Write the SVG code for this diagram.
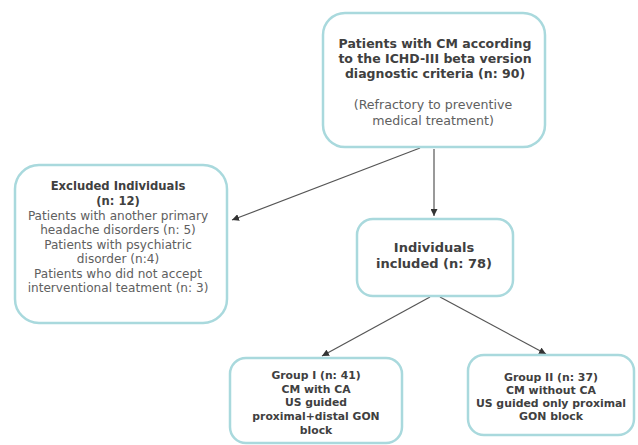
<svg xmlns="http://www.w3.org/2000/svg" width="638" height="445" viewBox="0 0 638 445">
<defs>
<marker id="arr" viewBox="0 0 10 10" refX="10" refY="5" markerWidth="7" markerHeight="7" orient="auto" markerUnits="userSpaceOnUse">
<path d="M0,0 L10,5 L0,10 z" fill="#333"/>
</marker>
<style>
.box{fill:#fff;stroke:#a9d9dd;stroke-width:2.5}
.b{font-family:"DejaVu Sans",sans-serif;font-weight:bold;fill:#404040;text-anchor:middle}
.r{font-family:"DejaVu Sans",sans-serif;fill:#606060;text-anchor:middle}
.c{stroke:#555;stroke-width:1.2;fill:none;marker-end:url(#arr)}
</style>
</defs>
<rect width="638" height="445" fill="#fff"/>
<g id="connectors">
<line class="c" x1="420" y1="148" x2="232" y2="220"/>
<line class="c" x1="434" y1="149" x2="434" y2="216"/>
<line class="c" x1="430" y1="297" x2="322" y2="356"/>
<line class="c" x1="440" y1="297" x2="546" y2="354"/>
</g>
<g id="top">
<rect class="box" x="323" y="13" width="222" height="134" rx="22"/>
<text class="b" font-size="12.5" x="435" y="48">Patients with CM according</text>
<text class="b" font-size="12.5" x="435" y="63">to the ICHD-III beta version</text>
<text class="b" font-size="12.5" x="435" y="78">diagnostic criteria (n: 90)</text>
<text class="r" font-size="12.6" x="433" y="109">(Refractory to preventive</text>
<text class="r" font-size="12.6" x="433" y="125">medical treatment)</text>
</g>
<g id="excluded">
<rect class="box" x="15" y="165" width="212" height="158" rx="24"/>
<text class="b" font-size="11.6" x="118" y="190">Excluded Individuals</text>
<text class="b" font-size="11.6" x="118" y="205">(n: 12)</text>
<text class="r" font-size="12.1" x="118" y="220">Patients with another primary</text>
<text class="r" font-size="12.1" x="118" y="234">headache disorders (n: 5)</text>
<text class="r" font-size="12.1" x="118" y="249">Patients with psychiatric</text>
<text class="r" font-size="12.1" x="118" y="263">disorder (n:4)</text>
<text class="r" font-size="12.1" x="118" y="278">Patients who did not accept</text>
<text class="r" font-size="12.1" x="118" y="292">interventional teatment (n: 3)</text>
</g>
<g id="included">
<rect class="box" x="357" y="219" width="156" height="77" rx="16"/>
<text class="b" font-size="13" x="434" y="252">Individuals</text>
<text class="b" font-size="13" x="434" y="268">included (n: 78)</text>
</g>
<g id="group1">
<rect class="box" x="230" y="358" width="172" height="85" rx="16"/>
<text class="b" font-size="10.8" x="316" y="379">Group I (n: 41)</text>
<text class="b" font-size="10.8" x="316" y="393">CM with CA</text>
<text class="b" font-size="10.8" x="316" y="406">US guided</text>
<text class="b" font-size="10.8" x="316" y="420">proximal+distal GON</text>
<text class="b" font-size="10.8" x="316" y="434">block</text>
</g>
<g id="group2">
<rect class="box" x="468" y="355" width="166" height="80" rx="16"/>
<text class="b" font-size="10.9" x="551" y="381">Group II (n: 37)</text>
<text class="b" font-size="10.9" x="551" y="394">CM without CA</text>
<text class="b" font-size="10.9" x="551" y="407">US guided only proximal</text>
<text class="b" font-size="10.9" x="551" y="420">GON block</text>
</g>
</svg>
